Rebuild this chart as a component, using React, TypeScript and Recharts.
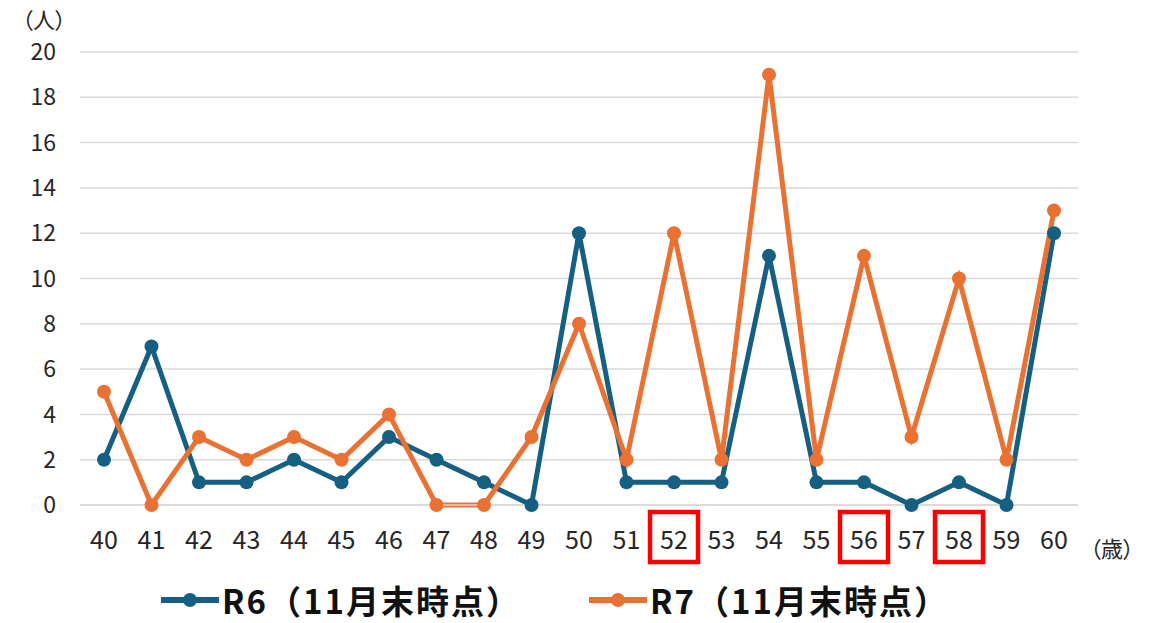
import { LineChart, Line, XAxis, YAxis, CartesianGrid } from "recharts";

const ages = [
  "40", "41", "42", "43", "44", "45", "46", "47", "48", "49", "50",
  "51", "52", "53", "54", "55", "56", "57", "58", "59", "60",
];
const r6 = [2, 7, 1, 1, 2, 1, 3, 2, 1, 0, 12, 1, 1, 1, 11, 1, 1, 0, 1, 0, 12];
const r7 = [5, 0, 3, 2, 3, 2, 4, 0, 0, 3, 8, 2, 12, 2, 19, 2, 11, 3, 10, 2, 13];
const yTicks = [0, 2, 4, 6, 8, 10, 12, 14, 16, 18, 20];
const boxedAges = ["52", "56", "58"];

const seriesNames = ["R6（11月末時点）", "R7（11月末時点）"];
const BLUE = "#156082";
const ORANGE = "#E97132";

const data = ages.map((age, i) => ({ age, r6: r6[i], r7: r7[i] }));

const FONT = '"Noto Sans CJK JP", "Noto Sans", sans-serif';

const AgeTick = ({ x, y, payload }: any) => {
  const boxed = boxedAges.includes(payload.value);
  return (
    <g>
      {boxed && (
        <rect
          x={x - 24}
          y={y + 7}
          width={48}
          height={50}
          fill="none"
          stroke="#FF0000"
          strokeWidth={4.5}
        />
      )}
      <text
        x={x}
        y={y + 44}
        textAnchor="middle"
        fontSize={25}
        fill="#262626"
        fontFamily={FONT}
      >
        {payload.value}
      </text>
    </g>
  );
};

const LegendItem = ({ color, label, left }: any) => (
  <div
    style={{
      position: "absolute",
      left,
      top: 580,
      height: 40,
      display: "flex",
      alignItems: "center",
    }}
  >
    <svg width={58} height={20}>
      <line x1={1} y1={10} x2={57} y2={10} stroke={color} strokeWidth={6} strokeLinecap="round" />
      <circle cx={29} cy={10} r={7} fill={color} />
    </svg>
    <span
      style={{
        marginLeft: 3,
        fontFamily: FONT,
        fontWeight: 700,
        fontSize: 33,
        lineHeight: "40px",
        letterSpacing: 2,
        color: "#111",
        whiteSpace: "nowrap",
      }}
    >
      {label}
    </span>
  </div>
);

export default function App() {
  return (
    <div
      style={{
        position: "absolute",
        left: 0,
        top: 0,
        width: 1158,
        height: 623,
        background: "#fff",
        fontFamily: FONT,
        overflow: "hidden",
      }}
    >
      <LineChart
        width={1158}
        height={623}
        data={data}
        margin={{ top: 52, right: 80, left: 0, bottom: 0 }}
      >
        <CartesianGrid vertical={false} stroke="#d9d9d9" strokeWidth={1.5} />
        <XAxis
          dataKey="age"
          height={118}
          padding={{ left: 24, right: 24 }}
          tickLine={false}
          tickSize={0}
          tickMargin={0}
          axisLine={{ stroke: "#d9d9d9", strokeWidth: 1.5 }}
          tick={<AgeTick />}
          interval={0}
        />
        <YAxis
          width={80}
          domain={[0, 20]}
          ticks={yTicks}
          axisLine={false}
          tickLine={false}
          tickSize={0}
          tickMargin={24}
          tick={{ fontSize: 23, fill: "#262626", fontFamily: FONT }}
        />
        <Line
          type="linear"
          dataKey="r6"
          name={seriesNames[0]}
          stroke={BLUE}
          strokeWidth={5}
          dot={{ r: 7, fill: BLUE, stroke: BLUE, strokeWidth: 0 }}
          isAnimationActive={false}
        />
        <Line
          type="linear"
          dataKey="r7"
          name={seriesNames[1]}
          stroke={ORANGE}
          strokeWidth={5}
          dot={{ r: 7, fill: ORANGE, stroke: ORANGE, strokeWidth: 0 }}
          isAnimationActive={false}
        />
      </LineChart>

      <div
        style={{
          position: "absolute",
          left: 22,
          top: 4,
          fontSize: 22,
          lineHeight: "28px",
          color: "#262626",
          fontFeatureSettings: '"palt"',
        }}
      >
        （人）
      </div>
      <div
        style={{
          position: "absolute",
          left: 1090,
          top: 533,
          fontSize: 22,
          lineHeight: "28px",
          color: "#262626",
          fontFeatureSettings: '"palt"',
        }}
      >
        （歳）
      </div>

      <LegendItem color={BLUE} label={seriesNames[0]} left={161} />
      <LegendItem color={ORANGE} label={seriesNames[1]} left={589} />
    </div>
  );
}
